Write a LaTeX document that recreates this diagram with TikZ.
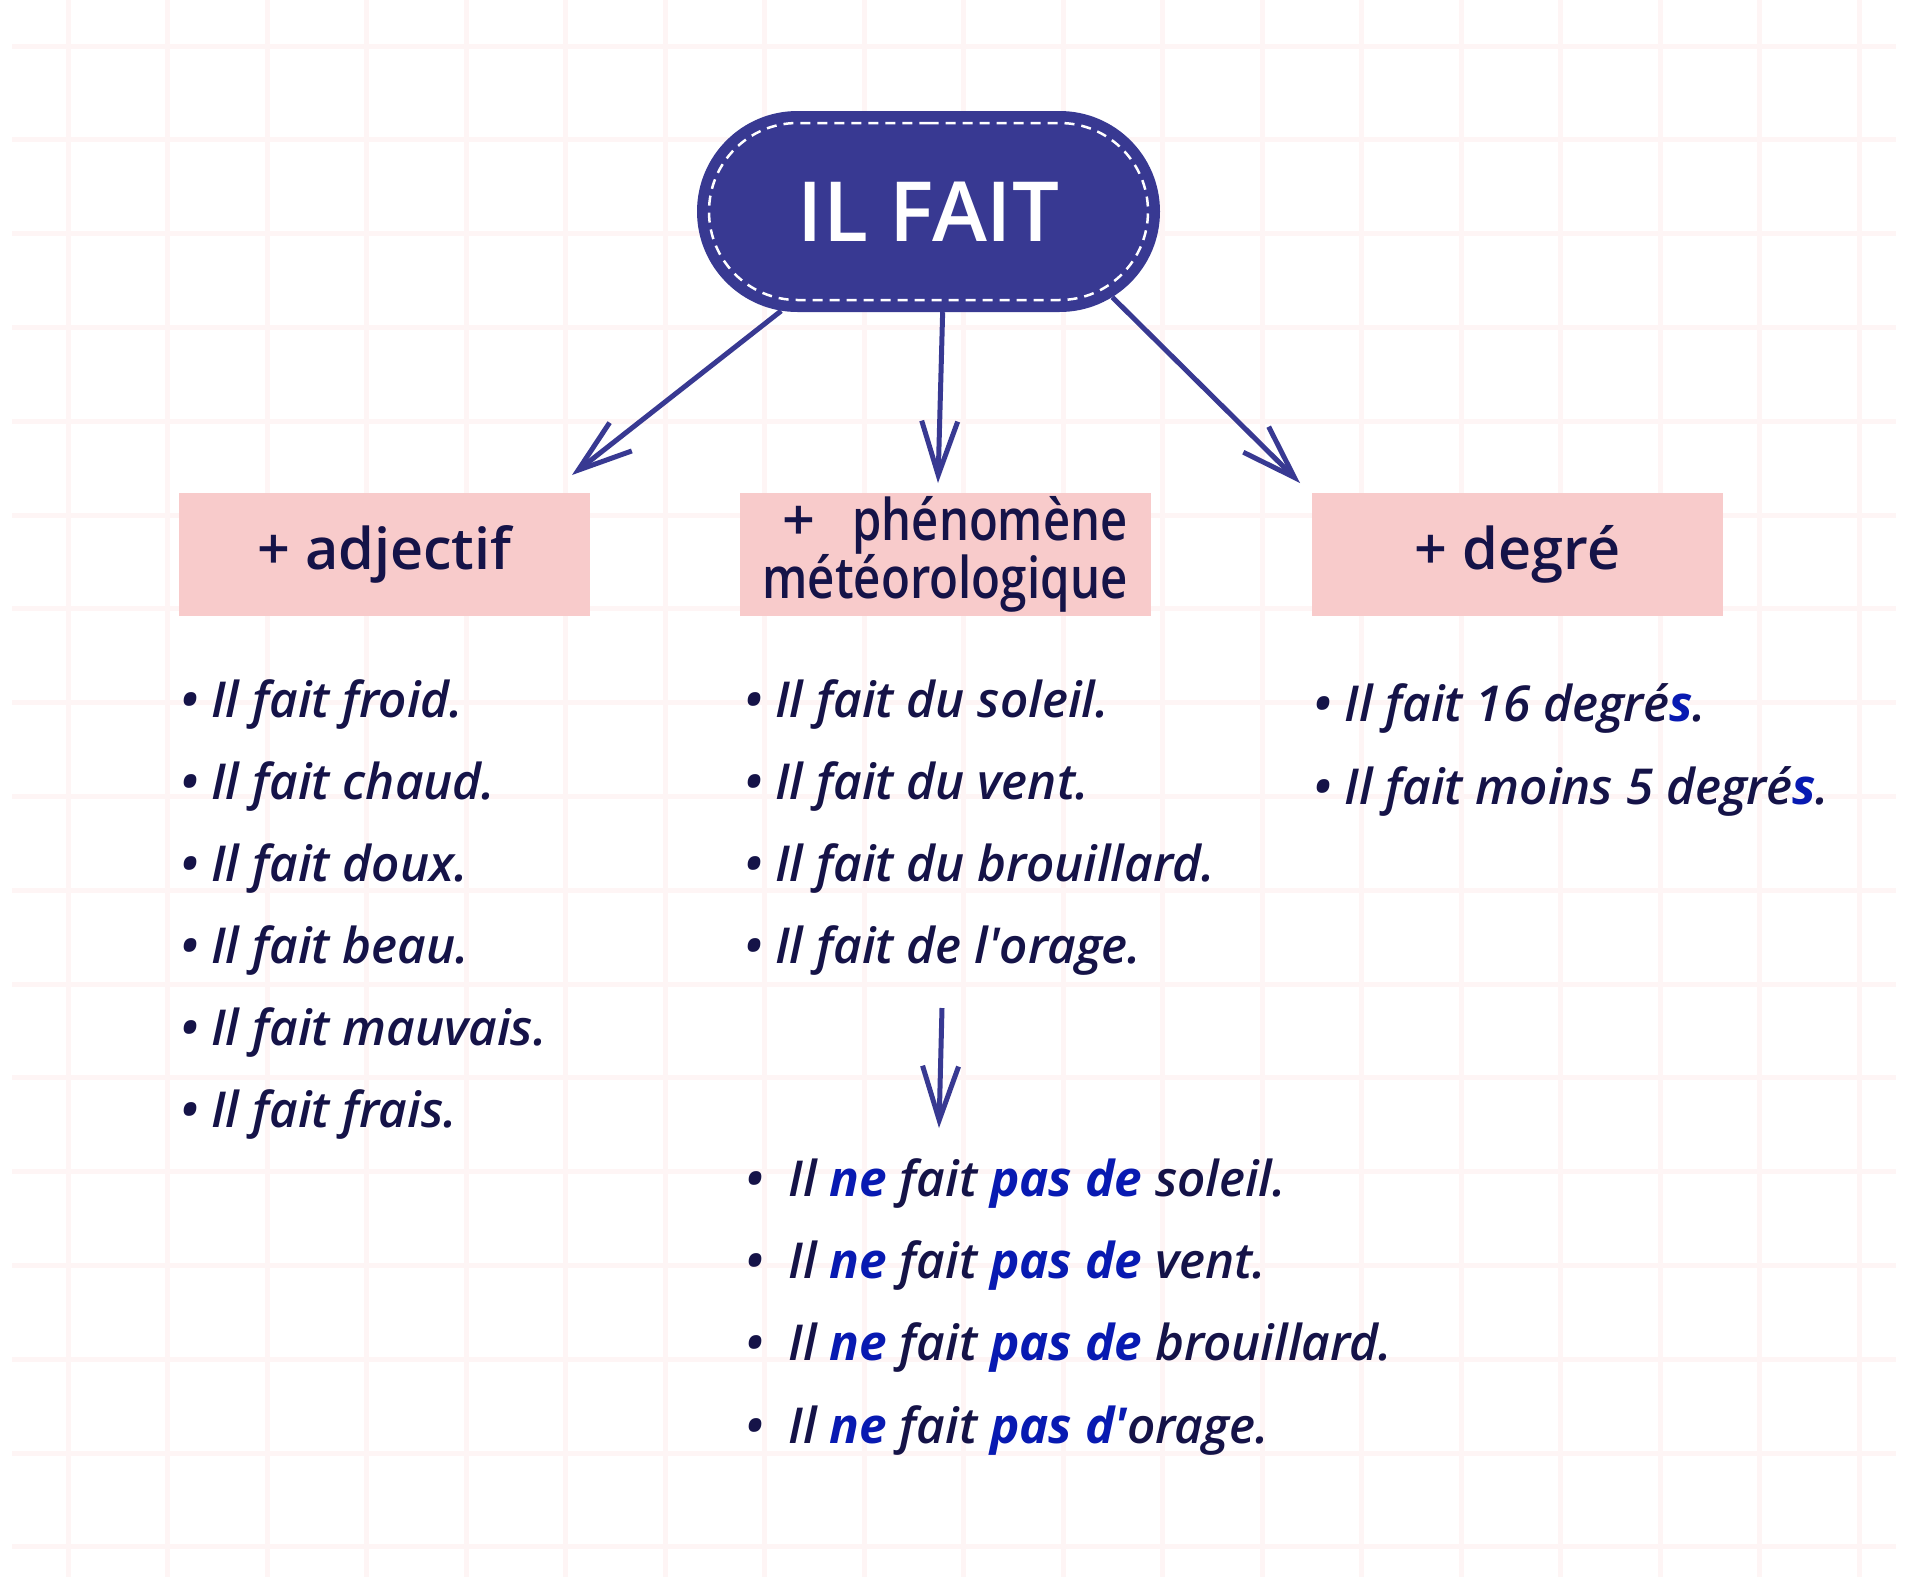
\documentclass[tikz,border=0pt]{standalone}
\usepackage{fontspec}
\usetikzlibrary{arrows.meta,shapes.misc}
\setmainfont{Open Sans}
\IfFontExistsTF{Open Sans SemiBold}{%
  \newfontfamily\sbf{Open Sans SemiBold}[ItalicFont={Open Sans SemiBold Italic}]%
}{%
  \IfFontExistsTF{Open Sans Semibold}{%
    \newfontfamily\sbf{Open Sans Semibold}[ItalicFont={Open Sans Semibold Italic}]%
  }{%
    \newfontfamily\sbf{Open Sans}[FakeBold=10]%
  }%
}
\definecolor{navy}{RGB}{56,57,146}
\definecolor{pinkbox}{RGB}{248,203,203}
\definecolor{ink}{RGB}{21,19,72}
\definecolor{hl}{RGB}{8,26,178}
\definecolor{gridc}{RGB}{254,245,245}
\newcommand\bl[1]{{\normalfont\bfseries\itshape\color{hl}#1}}
\newcommand\ap{\textquotesingle}
\tikzset{
  gridline/.style={draw=gridc, line width=5pt},
  item/.style={anchor=base west, inner sep=0pt, text=ink, font=\sbf\itshape\fontsize{49.5}{58}\selectfont},
  hdr/.style={fill=pinkbox, minimum width=411pt, minimum height=123pt, inner sep=0pt, text=ink, align=center, font=\sbf\fontsize{57.5}{58}\selectfont},
  arr/.style={draw=navy, line width=5pt, -{Straight Barb[length=54pt,width=36pt]}},
}
\begin{document}
\begin{tikzpicture}[x=1pt,y=-1pt]
\useasboundingbox[fill=white] (0,0) rectangle (1920,1577);
\foreach \i in {0,...,18} \draw[gridline] ({68+99.5*\i},0) -- ({68+99.5*\i},1577);
\foreach \j in {0,...,16} \draw[gridline] (12,{46+93.8*\j}) -- (1896,{46+93.8*\j});

% top pill
\node[rounded rectangle, fill=navy, minimum width=463pt, minimum height=201pt, inner sep=0pt, text=white, font=\sbf\fontsize{83}{90}\selectfont] (top) at (928.5,211.5) {IL FAIT};
\node[rounded rectangle, draw=white, dash pattern=on 10pt off 7pt, line width=2.5pt, minimum width=439pt, minimum height=177pt, inner sep=0pt] (topin) at (top.center) {};

% headers
\node[hdr] (b1) at (384.5,554.5) {+ adjectif};
\node[hdr] (b2) at (945,554.5) {\makebox[365pt][l]{\hspace*{20pt}+\hfill\resizebox{275pt}{\height}{phénomène}}\\\resizebox{365pt}{\height}{météorologique}};
\node[hdr] (b3) at (1517.5,554.5) {+ degré};

% arrows
\coordinate (t1) at (572,475);
\coordinate (t2) at (938,483);
\coordinate (t3) at (1300,483);
\draw[arr] (top.-146.8) -- (t1);
\draw[arr] (top.-82.3) -- (t2);
\draw[arr] (top.-25.6) -- (t3);

% column 1
\node[item] (c1a) at (180,717) {• Il fait froid.};
\node[item] (c1b) at (180,799) {• Il fait chaud.};
\node[item] (c1c) at (180,881) {• Il fait doux.};
\node[item] (c1d) at (180,963) {• Il fait beau.};
\node[item] (c1e) at (180,1045) {• Il fait mauvais.};
\node[item] (c1f) at (180,1127) {• Il fait frais.};

% column 2
\node[item] (c2a) at (744,717) {• Il fait du soleil.};
\node[item] (c2b) at (744,799) {• Il fait du vent.};
\node[item] (c2c) at (744,881) {• Il fait du brouillard.};
\node[item] (c2d) at (744,963) {• Il fait de l\ap orage.};

% column 3
\node[item] (c3a) at (1313,721) {• Il fait 16 degré\bl{s}.};
\node[item] (c3b) at (1313,804) {• Il fait moins 5 degré\bl{s}.};

% negation
\coordinate (d1) at (942,1008);
\coordinate (d2) at (939,1128);
\draw[arr] (d1) -- (d2);
\node[item] (n1) at (745,1196) {•\kern12pt\ Il \bl{ne} fait \bl{pas de} soleil.};
\node[item] (n2) at (745,1278) {•\kern12pt\ Il \bl{ne} fait \bl{pas de} vent.};
\node[item] (n3) at (745,1360) {•\kern12pt\ Il \bl{ne} fait \bl{pas de} brouillard.};
\node[item] (n4) at (745,1443) {•\kern12pt\ Il \bl{ne} fait \bl{pas d\ap}orage.};
\end{tikzpicture}
\end{document}
